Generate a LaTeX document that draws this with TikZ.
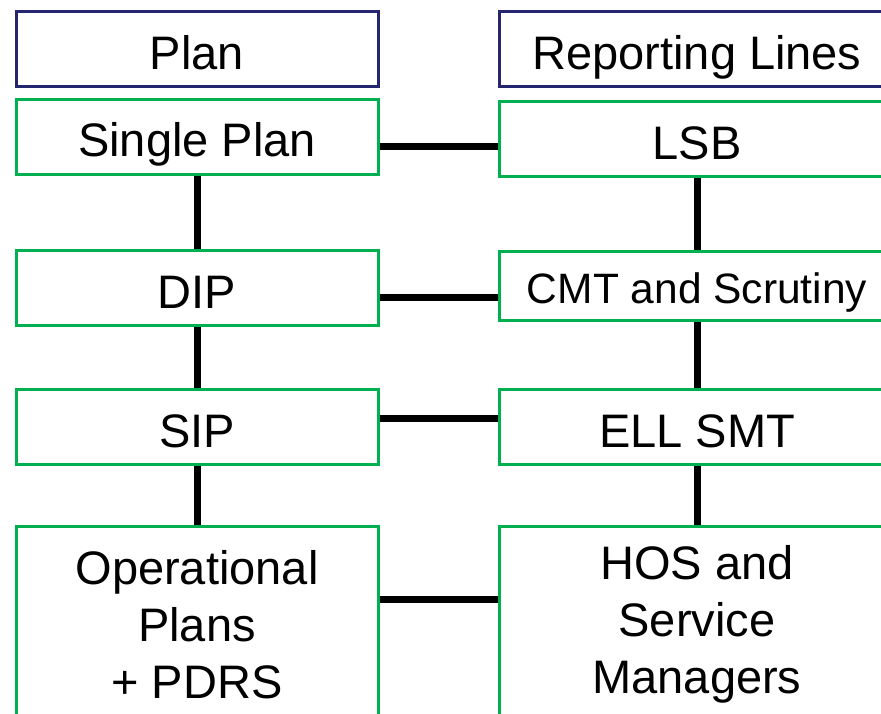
\documentclass[tikz,border=0pt]{standalone}
\usepackage{fontspec}
\setmainfont{Liberation Sans}
\definecolor{navy}{RGB}{38,38,112}
\definecolor{grn}{RGB}{0,176,80}

\tikzset{box/.style={draw, line width=3pt, rectangle, inner sep=0pt, align=center, font=\fontsize{47}{57}\selectfont}}
\tikzset{one/.style={text height=40pt, text depth=0pt}}
\tikzset{hd/.style={box, one, draw=navy}}
\tikzset{gb/.style={box, one, draw=grn}}
\tikzset{gbtall/.style={box, draw=grn, minimum height=196pt}}
\tikzset{link/.style={line width=7pt, black}}

\begin{document}
\begin{tikzpicture}[x=1pt, y=-1pt, lw/.style={minimum width=362pt}, rw/.style={minimum width=395pt}]
    \useasboundingbox (0,0) rectangle (881,713);
    \clip (0,0) rectangle (881,713);
    \fill[white] (0,0) rectangle (881,713);

    \node[hd, lw, minimum height=75pt] (plan) at (197,49) {Plan};
    \node[hd, rw, minimum height=75pt] (rep) at (697,49) {Reporting Lines};

    \node[gb, lw, minimum height=75pt] (single) at (197,136.5) {Single Plan};
    \node[gb, rw, minimum height=75pt] (lsb) at (697,139) {LSB};

    \node[gb, lw, minimum height=75pt] (dip) at (197,288) {DIP};
    \node[gb, rw, minimum height=69pt, text height=34.5pt, font=\fontsize{42.5}{50}\selectfont] (cmt) at (697,286) {CMT and Scrutiny};

    \node[gb, lw, minimum height=75pt] (sip) at (197,427) {SIP};
    \node[gb, rw, minimum height=75pt] (ell) at (697,427) {ELL SMT};

    \node[gbtall, lw] (oper) at (197,624.5) {Operational\\Plans\\+ PDRS};
    \node[gbtall, rw] (hos) at (697,624.5) {HOS and\\Service\\Managers};

    \draw[link] (single) -- (dip);
    \draw[link] (dip) -- (sip);
    \draw[link] (sip) -- (oper);
    \draw[link] (lsb) -- (cmt);
    \draw[link] (cmt) -- (ell);
    \draw[link] (ell) -- (hos);

    \draw[link] ([yshift=-9.5pt]single.east) -- ([yshift=-9.5pt]single.east -| lsb.west);
    \draw[link] ([yshift=-9pt]dip.east) -- ([yshift=-9pt]dip.east -| cmt.west);
    \draw[link] ([yshift=9pt]sip.east) -- ([yshift=9pt]sip.east -| ell.west);
    \draw[link] ([yshift=25.5pt]oper.east) -- ([yshift=25.5pt]oper.east -| hos.west);
\end{tikzpicture}
\end{document}
